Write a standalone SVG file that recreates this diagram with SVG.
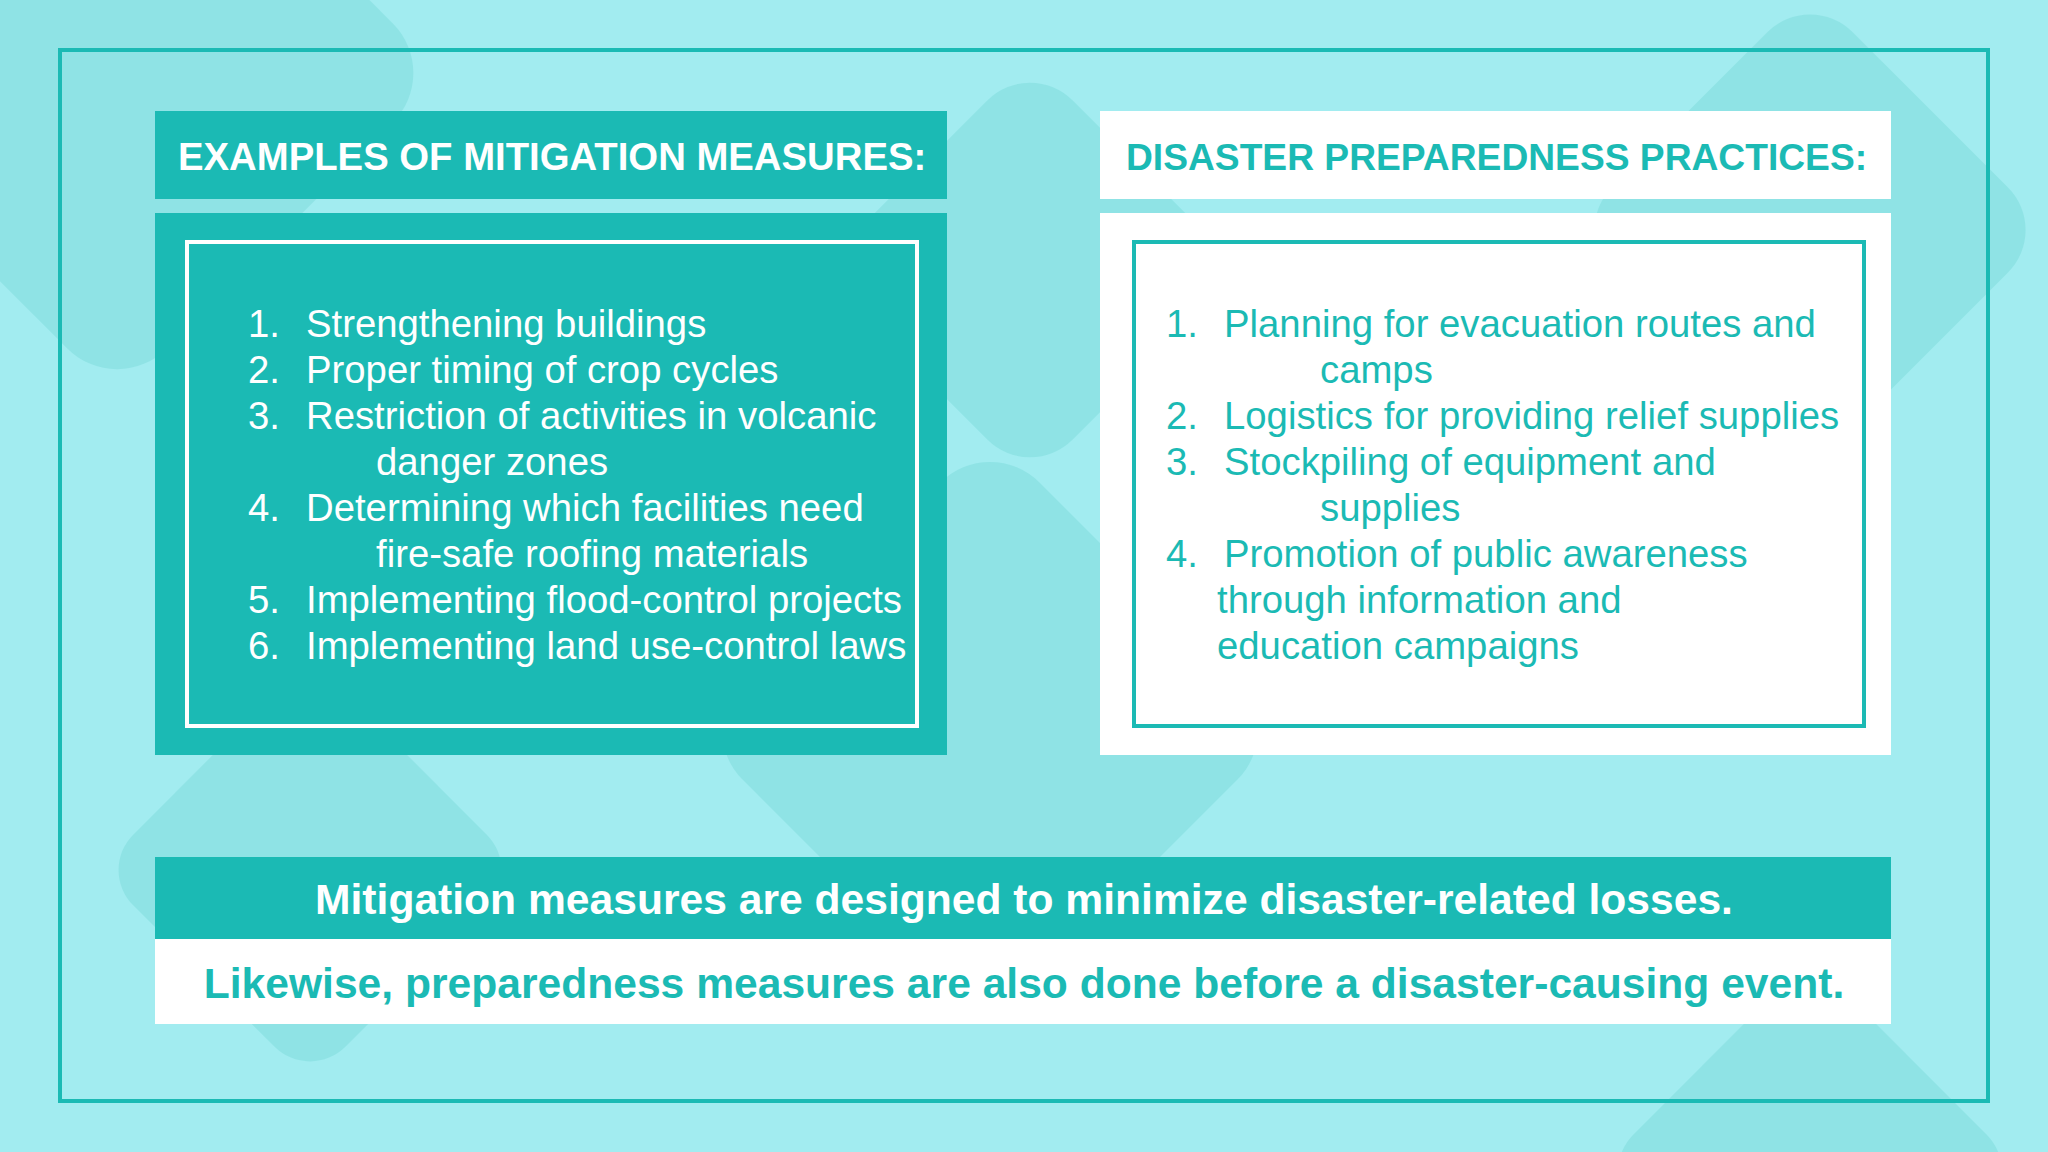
<svg xmlns="http://www.w3.org/2000/svg" width="2048" height="1152" viewBox="0 0 2048 1152">
<style>
.bg{fill:#7fdcdc;opacity:0.55}
.h{font-family:"Liberation Sans",Arial,sans-serif;font-weight:bold;font-size:38.3px}
.l{font-family:"Liberation Sans",Arial,sans-serif;font-size:38.3px}
.b{font-family:"Liberation Sans",Arial,sans-serif;font-weight:bold;font-size:42.6px;text-anchor:middle}
</style>
<rect width="2048" height="1152" fill="#a2ecf0"/>
<g id="background">
<rect class="bg" x="-120" y="-160" width="460" height="460" rx="70" transform="rotate(45 110 80)"/>
<rect class="bg" x="1640" y="60" width="340" height="340" rx="60" transform="rotate(45 1810 230)"/>
<rect class="bg" x="880" y="120" width="300" height="300" rx="60" transform="rotate(45 1030 270)"/>
<rect class="bg" x="780" y="520" width="420" height="420" rx="70" transform="rotate(45 990 730)"/>
<rect class="bg" x="160" y="720" width="300" height="300" rx="50" transform="rotate(45 310 870)"/>
<rect class="bg" x="1660" y="1020" width="300" height="300" rx="50" transform="rotate(45 1810 1170)"/>
</g>
<rect x="60" y="50" width="1928" height="1051" fill="none" stroke="#1bbab4" stroke-width="4"/>
<g id="left">
<rect x="155" y="111" width="792" height="88" fill="#1bbab4"/>
<text class="h" x="178" y="170" fill="#ffffff">EXAMPLES OF MITIGATION MEASURES:</text>
<rect x="155" y="213" width="792" height="542" fill="#1bbab4"/>
<rect x="187" y="242" width="730" height="484" fill="none" stroke="#ffffff" stroke-width="4"/>
<g class="l" fill="#ffffff">
<text x="248" y="337">1.</text><text x="306" y="337">Strengthening buildings</text>
<text x="248" y="383">2.</text><text x="306" y="383">Proper timing of crop cycles</text>
<text x="248" y="429">3.</text><text x="306" y="429">Restriction of activities in volcanic</text>
<text x="376" y="475">danger zones</text>
<text x="248" y="521">4.</text><text x="306" y="521">Determining which facilities need</text>
<text x="376" y="567">fire-safe roofing materials</text>
<text x="248" y="613">5.</text><text x="306" y="613">Implementing flood-control projects</text>
<text x="248" y="659">6.</text><text x="306" y="659">Implementing land use-control laws</text>
</g>
</g>
<g id="right">
<rect x="1100" y="111" width="791" height="88" fill="#ffffff"/>
<text class="h" x="1126" y="170" fill="#1bbab4" style="font-size:37.2px">DISASTER PREPAREDNESS PRACTICES:</text>
<rect x="1100" y="213" width="791" height="542" fill="#ffffff"/>
<rect x="1134" y="242" width="730" height="484" fill="none" stroke="#1bbab4" stroke-width="4"/>
<g class="l" fill="#1bbab4">
<text x="1166" y="337">1.</text><text x="1224" y="337">Planning for evacuation routes and</text>
<text x="1320" y="383">camps</text>
<text x="1166" y="429">2.</text><text x="1224" y="429">Logistics for providing relief supplies</text>
<text x="1166" y="475">3.</text><text x="1224" y="475">Stockpiling of equipment and</text>
<text x="1320" y="521">supplies</text>
<text x="1166" y="567">4.</text><text x="1224" y="567">Promotion of public awareness</text>
<text x="1217" y="613">through information and</text>
<text x="1217" y="659">education campaigns</text>
</g>
</g>
<g id="bottom">
<rect x="155" y="857" width="1736" height="82" fill="#1bbab4"/>
<text class="b" x="1024" y="914" fill="#ffffff">Mitigation measures are designed to minimize disaster-related losses.</text>
<rect x="155" y="939" width="1736" height="85" fill="#ffffff"/>
<text class="b" x="1024" y="998" fill="#1bbab4">Likewise, preparedness measures are also done before a disaster-causing event.</text>
</g>
<g id="connectors"/>
</svg>
